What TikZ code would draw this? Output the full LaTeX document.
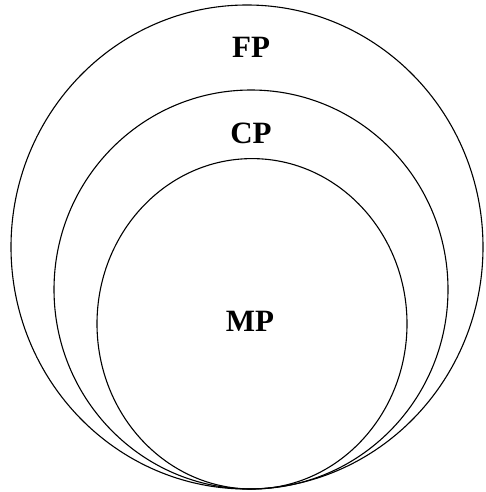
\documentclass[tikz,border=0pt]{standalone}
\usepackage{fontspec}
\setmainfont{Liberation Serif}
\begin{document}
\begin{tikzpicture}[x=1pt,y=-1pt,
  ring/.style={draw=black,line width=1.1pt},
  lab/.style={font=\fontsize{31}{32}\selectfont\bfseries,inner sep=0pt}]
\useasboundingbox (0,0) rectangle (486,492);
\draw[ring] (247,247) ellipse [x radius=236, y radius=242];
\draw[ring] (251,289.5) ellipse [x radius=197, y radius=199.5];
\draw[ring] (252,323.8) ellipse [x radius=155, y radius=165.2];
\node[lab] (fp) at (251,47) {FP};
\node[lab] (cp) at (251,133) {CP};
\node[lab] (mp) at (250,321) {MP};
\end{tikzpicture}
\end{document}
